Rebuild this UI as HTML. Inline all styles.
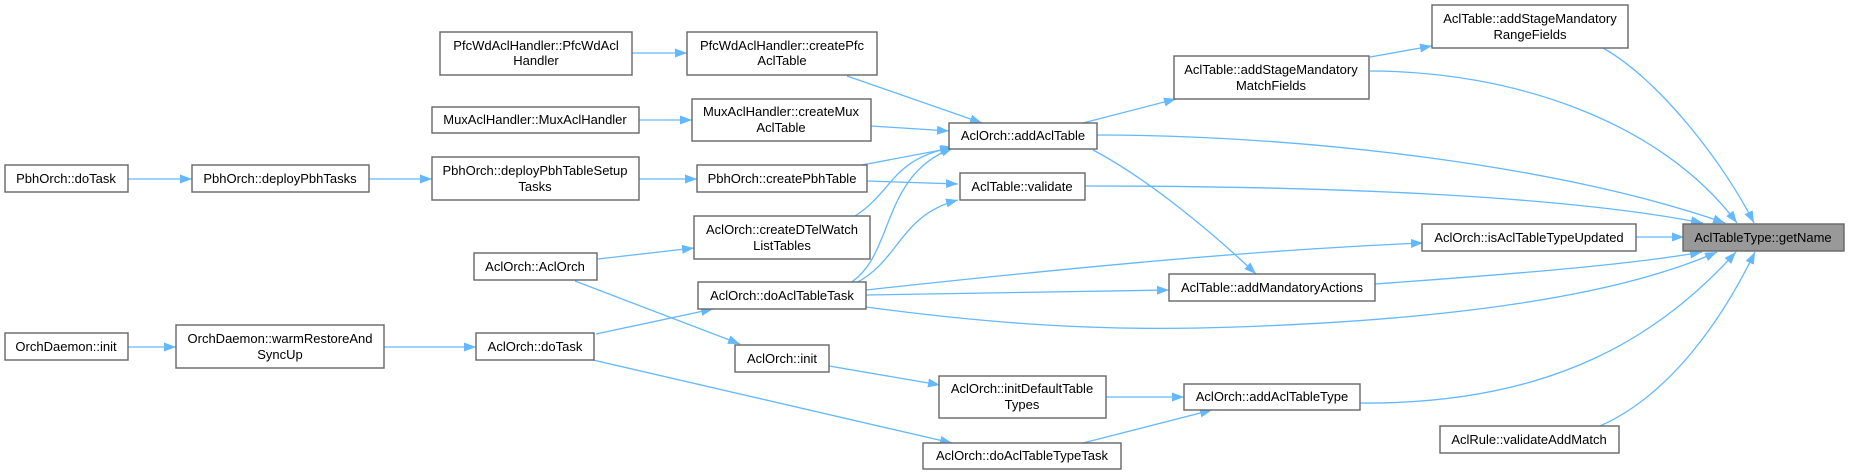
<!DOCTYPE html>
<html><head><meta charset="utf-8"><style>
html,body{margin:0;padding:0;background:#fff;}
svg{display:block;}
text{font-family:"Liberation Sans",Arial,sans-serif;font-size:13px;fill:#000;text-anchor:middle;}
.n{fill:#fff;stroke:#666;stroke-width:1.4;}
.e{fill:none;stroke:#63b8ff;stroke-width:1.3;marker-end:url(#a);}
</style></head><body>
<svg width="1849" height="475" viewBox="0 0 1849 475" xmlns="http://www.w3.org/2000/svg">
<defs><marker id="a" markerUnits="userSpaceOnUse" markerWidth="13" markerHeight="10" refX="12" refY="4.5" orient="auto"><path d="M0,0 L12,4.5 L0,9 z" fill="#63b8ff"/></marker></defs>

<!-- edges -->
<path class="e" d="M632,53 L687,53"/>
<path class="e" d="M639,120 L692,120"/>
<path class="e" d="M128,179 L192,179"/>
<path class="e" d="M369,179 L432,179"/>
<path class="e" d="M639,179 L697,179"/>
<path class="e" d="M128,347 L176,347"/>
<path class="e" d="M384,347 L476,347"/>
<path class="e" d="M596,334 L713,309"/>
<path class="e" d="M593,360 L952,443"/>
<path class="e" d="M598,259 L694,248"/>
<path class="e" d="M575,281 L740,344"/>
<path class="e" d="M829,366 L940,385"/>
<path class="e" d="M1106,397 L1184,397"/>
<path class="e" d="M1083,443 L1212,410"/>
<path class="e" d="M847,76 L982,123"/>
<path class="e" d="M871,126 L949,131"/>
<path class="e" d="M862,165 L952,148"/>
<path class="e" d="M867,181 L958,184"/>
<path class="e" d="M855,216 C895,190 890,160 953,147"/>
<path class="e" d="M850,283 C895,255 880,175 953,148"/>
<path class="e" d="M856,283 C900,260 900,215 958,200"/>
<path class="e" d="M866,290 C1050,270 1250,250 1423,243"/>
<path class="e" d="M866,295 L1169,290"/>
<path class="e" d="M866,307 C1000,325 1100,330 1200,328 C1450,322 1620,295 1717,252"/>
<path class="e" d="M1083,123 L1176,99"/>
<path class="e" d="M1370,57 L1432,46"/>
<path class="e" d="M1093,150 C1150,180 1215,235 1256,274"/>
<path class="e" d="M1603,48 C1660,80 1725,165 1754,223"/>
<path class="e" d="M1370,71 C1510,71 1660,120 1737,223"/>
<path class="e" d="M1097,135 C1300,135 1560,165 1725,223"/>
<path class="e" d="M1085,186 C1320,186 1560,195 1703,223"/>
<path class="e" d="M1636,237 L1684,237"/>
<path class="e" d="M1375,284 C1500,275 1630,265 1702,252"/>
<path class="e" d="M1360,403 C1560,405 1665,330 1736,252"/>
<path class="e" d="M1600,426 C1670,395 1722,320 1755,252"/>

<!-- nodes -->
<rect class="n" x="440" y="32" width="192" height="43"/><text x="536" y="50">PfcWdAclHandler::PfcWdAcl</text><text x="536" y="65">Handler</text>
<rect class="n" x="687" y="32" width="190" height="43"/><text x="782" y="50">PfcWdAclHandler::createPfc</text><text x="782" y="65">AclTable</text>
<rect class="n" x="432" y="107" width="207" height="26"/><text x="535" y="124">MuxAclHandler::MuxAclHandler</text>
<rect class="n" x="692" y="99" width="179" height="42"/><text x="781" y="116">MuxAclHandler::createMux</text><text x="781" y="132">AclTable</text>
<rect class="n" x="5" y="165" width="123" height="27"/><text x="66" y="183">PbhOrch::doTask</text>
<rect class="n" x="192" y="165" width="177" height="27"/><text x="280" y="183">PbhOrch::deployPbhTasks</text>
<rect class="n" x="432" y="157" width="207" height="43"/><text x="535" y="175">PbhOrch::deployPbhTableSetup</text><text x="535" y="191">Tasks</text>
<rect class="n" x="697" y="165" width="170" height="27"/><text x="782" y="183">PbhOrch::createPbhTable</text>
<rect class="n" x="694" y="216" width="176" height="43"/><text x="782" y="234">AclOrch::createDTelWatch</text><text x="782" y="250">ListTables</text>
<rect class="n" x="474" y="253" width="123" height="27"/><text x="535" y="271">AclOrch::AclOrch</text>
<rect class="n" x="698" y="282" width="168" height="27"/><text x="782" y="300">AclOrch::doAclTableTask</text>
<rect class="n" x="5" y="333" width="123" height="27"/><text x="66" y="351">OrchDaemon::init</text>
<rect class="n" x="176" y="325" width="208" height="43"/><text x="280" y="343">OrchDaemon::warmRestoreAnd</text><text x="280" y="359">SyncUp</text>
<rect class="n" x="476" y="333" width="118" height="27"/><text x="535" y="351">AclOrch::doTask</text>
<rect class="n" x="735" y="345" width="94" height="27"/><text x="782" y="363">AclOrch::init</text>
<rect class="n" x="1432" y="5" width="196" height="43"/><text x="1530" y="23">AclTable::addStageMandatory</text><text x="1530" y="39">RangeFields</text>
<rect class="n" x="1174" y="56" width="195" height="43"/><text x="1271" y="74">AclTable::addStageMandatory</text><text x="1271" y="90">MatchFields</text>
<rect class="n" x="949" y="123" width="148" height="26"/><text x="1023" y="140">AclOrch::addAclTable</text>
<rect class="n" x="960" y="173" width="125" height="27"/><text x="1022" y="191">AclTable::validate</text>
<rect class="n" x="1422" y="224" width="214" height="27"/><text x="1529" y="242">AclOrch::isAclTableTypeUpdated</text>
<rect x="1683" y="224" width="161" height="27" fill="#999" stroke="#666" stroke-width="1.4"/><text x="1763" y="242">AclTableType::getName</text>
<rect class="n" x="1169" y="274" width="206" height="27"/><text x="1272" y="292">AclTable::addMandatoryActions</text>
<rect class="n" x="939" y="376" width="167" height="42"/><text x="1022" y="393">AclOrch::initDefaultTable</text><text x="1022" y="409">Types</text>
<rect class="n" x="1184" y="384" width="176" height="26"/><text x="1272" y="401">AclOrch::addAclTableType</text>
<rect class="n" x="923" y="443" width="198" height="26"/><text x="1022" y="460">AclOrch::doAclTableTypeTask</text>
<rect class="n" x="1440" y="426" width="179" height="27"/><text x="1529" y="444">AclRule::validateAddMatch</text>
</svg>
</body></html>
